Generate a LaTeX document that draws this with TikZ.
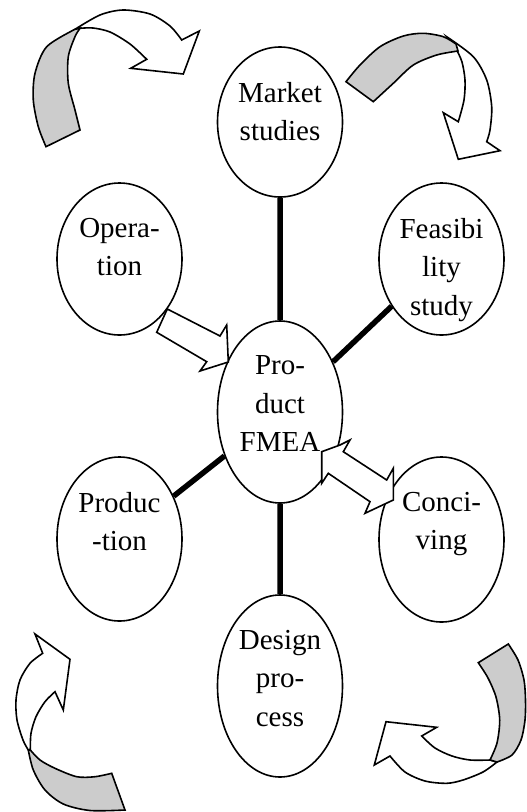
\documentclass[tikz,border=0pt]{standalone}
\usepackage{fontspec}
\setmainfont{Liberation Serif}
\usetikzlibrary{shapes.geometric,backgrounds}

\begin{document}
\begin{tikzpicture}[x=1pt, y=-1pt,
    bubble/.style={draw, ellipse, line width=1.6pt, fill=white, inner sep=0pt, minimum width=125pt},
    lbl/.style={anchor=north, align=center, inner sep=0pt, font=\fontsize{29}{38.5}\selectfont},
    spoke/.style={line width=5.5pt},
    blk/.style={draw, line width=1.6pt, fill=white, line join=miter},
    back/.style={draw, line width=1.6pt, fill=black!20}]
  \useasboundingbox (0,0) rectangle (527,812);

  \node[bubble, minimum height=150pt] (market)  at (280,122)   {};
  \node[bubble, minimum height=152pt] (oper)    at (119.5,259) {};
  \node[bubble, minimum height=152pt] (feas)    at (441.5,259) {};
  \node[bubble, minimum height=182pt] (product) at (280,412)   {};
  \node[bubble, minimum height=164pt] (prod)    at (119.5,539) {};
  \node[bubble, minimum height=165pt] (conc)    at (441.5,539.5) {};
  \node[bubble, minimum height=182pt] (design)  at (280,686)   {};

  \node[lbl] (market-t)  at ([yshift=-35.5pt]market.north)  {Market\\studies};
  \node[lbl] (oper-t)    at ([yshift=-35.5pt]oper.north)    {Opera-\\tion};
  \node[lbl] (feas-t)    at ([yshift=-35.5pt]feas.north)    {Feasibi\\lity\\study};
  \node[lbl] (product-t) at ([yshift=-35.5pt]product.north) {Pro-\\duct\\FMEA};
  \node[lbl] (prod-t)    at ([yshift=-35.5pt]prod.north)    {Produc\\-tion};
  \node[lbl] (conc-t)    at ([yshift=-35.5pt]conc.north)    {Conci-\\ving};
  \node[lbl] (design-t)  at ([yshift=-35.5pt]design.north)  {Design\\pro-\\cess};

  \begin{scope}[on background layer]
    \draw[spoke] (market) -- (product) (product) -- (feas)
      (product) -- (prod) (product) -- (design);
  \end{scope}

  \draw[blk] (156.7,332.3) -- (167.3,309) -- (220,336) -- (226.7,325)
    -- (228.3,362) -- (200,371) -- (206.7,361.7) -- cycle;
  \draw[blk] (321.7,451.7) -- (340,445) -- (350,440) -- (343.3,451.7)
    -- (386.7,480) -- (393.3,468.3) -- (393.3,500) -- (365,513.3)
    -- (370,501.7) -- (328.3,473.3) -- (321.7,483.3) -- cycle;

  % corner arrows
  \draw[blk] plot[smooth] coordinates {(75,29.3) (100,15) (123,10) (150,14) (170,26) (181.7,40)}
    -- (199.3,31) -- (183.3,74) -- (130.7,68.3) -- (146.7,59.3)
    -- plot[smooth] coordinates {(146.7,59.3) (130,44) (110,32) (93,28) (80,28.3)} -- cycle;
  \draw[back] plot[smooth] coordinates {(75,29.3) (46.7,46.7) (35,73.3) (33.3,100) (38.3,126.7) (46,146.7)}
    -- (80,130)
    -- plot[smooth] coordinates {(80,130) (75,110) (68.3,83.3) (68.3,56.7) (75,36.7) (80,28.3)} -- cycle;

  \draw[blk] plot[smooth] coordinates {(446.7,36.7) (473.3,56.7) (486.7,80) (491.7,106.7) (490,130) (486.7,141.7)}
    -- (500,150.7) -- (458.3,159.3) -- (443.3,112.7) -- (458.3,121.7)
    -- plot[smooth] coordinates {(458.3,121.7) (464,100) (465,80) (462,62) (456.7,50)} -- cycle;
  \draw[back] plot[smooth] coordinates {(346,81.7) (360,65) (380,46.7) (403.3,36) (423.3,33.3) (443.3,36.7) (456,44)}
    -- (458,51)
    -- plot[smooth] coordinates {(458,51) (436.7,55) (413.3,65) (393.3,83.3) (373.3,101.7)} -- cycle;

  \draw[blk] plot[smooth] coordinates {(28.3,750) (23,740) (17,720) (16,700) (20,680) (30,663.3) (42.7,653.3)}
    -- (35,634) -- (70,659.3) -- (63.3,710) -- (55,691.7)
    -- plot[smooth] coordinates {(55,691.7) (45,701.7) (36,716.7) (31,733.3) (30.3,750)} -- cycle;
  \draw[back] plot[smooth] coordinates {(28.3,750) (33.3,770) (45,790) (63.3,804) (90,810.5) (125,810)}
    -- (111.7,773.3)
    -- plot[smooth] coordinates {(111.7,773.3) (95,776.7) (76.7,776.7) (55,768.3) (40,760) (30.3,750)} -- cycle;

  \draw[blk] plot[smooth] coordinates {(497,762) (483,772) (463,780) (446.7,783.3) (425,781) (405,772) (390,756)}
    -- (374.3,765) -- (386,721.7) -- (436.7,727.3) -- (421.7,736)
    -- plot[smooth] coordinates {(421.7,736) (435,748) (452,756) (470,760) (490,760)} -- cycle;
  \draw[back] (478.3,662.7) -- (508.3,644)
    -- plot[smooth] coordinates {(508.3,644) (518,660) (524,680) (525.5,700) (525,720) (521,740) (512,755) (497,762)}
    -- plot[smooth] coordinates {(490,760) (497,743) (499.7,720) (496,697) (488,678) (478.3,662.7)} -- cycle;
\end{tikzpicture}
\end{document}
